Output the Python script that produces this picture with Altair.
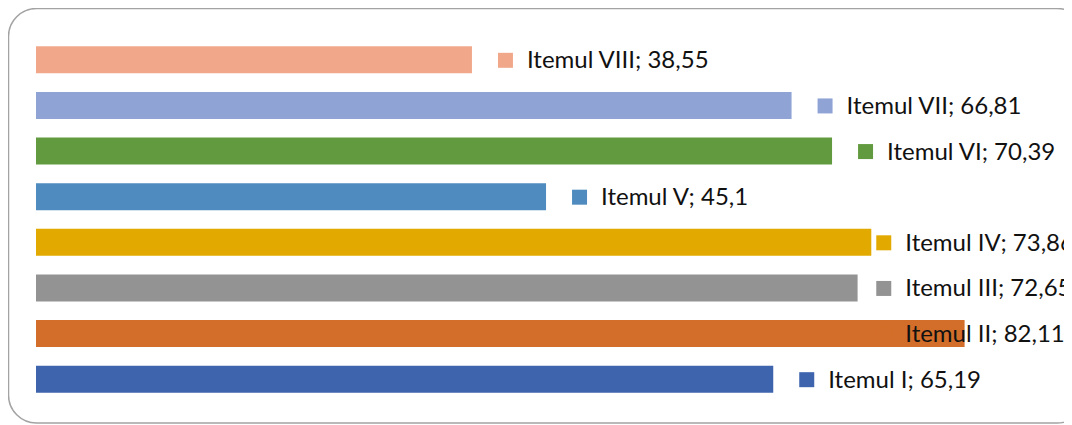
import altair as alt
import pandas as pd

items = ["Itemul VIII", "Itemul VII", "Itemul VI", "Itemul V",
         "Itemul IV", "Itemul III", "Itemul II", "Itemul I"]
values = [38.55, 66.81, 70.39, 45.1, 73.86, 72.65, 82.11, 65.19]
value_labels = ["38,55", "66,81", "70,39", "45,1", "73,86", "72,65", "82,11", "65,19"]
colors = ["#F1A88A", "#8FA3D5", "#629B3F", "#4F8BBE",
          "#E2AA00", "#939393", "#D36E2A", "#3D64AD"]

df = pd.DataFrame({
    "item": items,
    "value": values,
    "label": [f"{i}; {v}" for i, v in zip(items, value_labels)],
})

W, H = 1028, 365
FONT = "Lato"
LABEL_LIMIT = 72.0  # labels are kept inside the chart area, like the original

x = alt.X("value:Q", scale=alt.Scale(domain=[0, 90.9], nice=False, zero=True), axis=None)
xl = alt.X("label_pos:Q", scale=alt.Scale(domain=[0, 90.9], nice=False, zero=True), axis=None)
y = alt.Y("item:N", sort=items,
          scale=alt.Scale(paddingInner=0.41, paddingOuter=0.205), axis=None)
color = alt.Color("item:N", scale=alt.Scale(domain=items, range=colors), legend=None)

frame = alt.Chart(pd.DataFrame({"f": [0]})).mark_rect(
    filled=False, stroke="#A3A3A3", strokeWidth=1.5, cornerRadius=28
).encode(
    x=alt.value(-27.5), x2=alt.value(1049),
    y=alt.value(-28.5), y2=alt.value(386)
)

base = alt.Chart(df).transform_calculate(
    label_pos=f"min(datum.value, {LABEL_LIMIT})"
)

bars = base.mark_bar(cornerRadius=0).encode(x=x, y=y, color=color)

squares = base.mark_square(size=225, opacity=1, xOffset=33.5, yOffset=0.5).encode(
    x=xl, y=y, color=color
)

texts = base.mark_text(
    align="left", baseline="middle", dx=55, dy=1.5,
    font=FONT, fontSize=24, color="#111111"
).encode(x=xl, y=y, text="label:N")

chart = alt.layer(frame, bars, squares, texts).properties(
    width=W, height=H,
    padding={"left": 28, "top": 29, "right": 0, "bottom": 22},
    autosize=alt.AutoSizeParams(type="none"),
).configure_view(stroke=None)

chart.save("out.html", embed_options={"renderer": "svg", "actions": False})
